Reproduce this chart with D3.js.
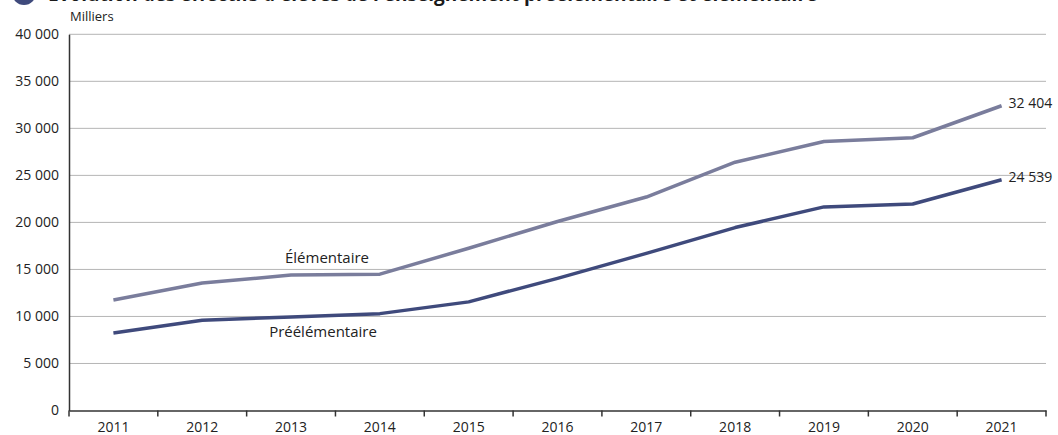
<!DOCTYPE html>
<html><head><meta charset="utf-8">
<script src="https://cdn.jsdelivr.net/npm/d3@7"></script>
<style>
body{margin:0;background:#fff;}
svg{display:block;font-family:"Open Sans","Noto Sans",sans-serif;}
</style></head>
<body>
<svg id="c" width="1058" height="435"></svg>
<script>
const years = ["2011","2012","2013","2014","2015","2016","2017","2018","2019","2020","2021"];
const elementaire = [11750, 13550, 14400, 14500, 17250, 20100, 22700, 26400, 28600, 29000, 32404];
const preelementaire = [8250, 9600, 9950, 10300, 11550, 14050, 16700, 19450, 21650, 21950, 24539];
const yTicks = [0, 5000, 10000, 15000, 20000, 25000, 30000, 35000, 40000];
const title = "Évolution des effectifs d'élèves de l'enseignement préélémentaire et élémentaire";

const svg = d3.select("#c");
const m = {l:69, r:1046, t:34.3, b:410.5};
const x = d3.scaleBand().domain(years).range([m.l, m.r]);
const y = d3.scaleLinear().domain([0, 40000]).range([m.b, m.t]);
const fmt = v => d3.format(",")(v).replace(/,/g, " ");

// title
svg.append("circle").attr("cx", 24).attr("cy", -7).attr("r", 12).attr("fill", "#3f4a7c");
svg.append("text").attr("x", 48).attr("y", 1).attr("font-size", 19).attr("font-weight", 700)
  .attr("fill", "#1a1a1a").text(title);
svg.append("text").attr("x", 70).attr("y", 21).attr("font-size", 13).attr("fill", "#222").text("Milliers");

// grid
svg.append("g").selectAll("line").data(yTicks.filter(d => d > 0)).join("line")
  .attr("x1", m.l).attr("x2", m.r).attr("y1", d => y(d)).attr("y2", d => y(d))
  .attr("stroke", "#b5b5b5").attr("stroke-width", 1);

// y axis
const ya = svg.append("g").attr("transform", `translate(${m.l},0)`)
  .call(d3.axisLeft(y).tickValues(yTicks).tickSize(0).tickPadding(10).tickFormat(fmt));
ya.select(".domain").attr("stroke", "#333").attr("stroke-width", 1.5);
ya.selectAll("text").attr("font-size", 14).attr("fill", "#222").attr("font-family", "Open Sans");

// x axis
const xa = svg.append("g").attr("transform", `translate(0,${m.b})`)
  .call(d3.axisBottom(x).tickSize(0).tickPadding(12));
xa.select(".domain").attr("stroke", "#333").attr("stroke-width", 1.5);
xa.selectAll("text").attr("font-size", 14).attr("fill", "#222").attr("font-family", "Open Sans");
const bounds = years.map(d => x(d)).concat([x.range()[1]]);
xa.selectAll(".bt").data(bounds).join("line").attr("class","bt")
  .attr("x1", d => d).attr("x2", d => d).attr("y1", 0).attr("y2", 6)
  .attr("stroke", "#333").attr("stroke-width", 1.5);

// lines
const cx = d => x(d) + x.bandwidth()/2;
const line = d3.line().x((d,i) => cx(years[i])).y(d => y(d));
svg.append("path").datum(elementaire).attr("d", line).attr("fill","none")
  .attr("stroke", "#7a7d9c").attr("stroke-width", 3.5).attr("stroke-linejoin","round");
svg.append("path").datum(preelementaire).attr("d", line).attr("fill","none")
  .attr("stroke", "#3f4a7c").attr("stroke-width", 3.5).attr("stroke-linejoin","round");

// end labels
const last = years.length - 1;
svg.append("text").attr("x", cx(years[last]) + 7).attr("y", y(elementaire[last]) + 2)
  .attr("font-size", 14).attr("fill", "#222").text(fmt(elementaire[last]));
svg.append("text").attr("x", cx(years[last]) + 7).attr("y", y(preelementaire[last]) + 2)
  .attr("font-size", 14).attr("fill", "#222").text(fmt(preelementaire[last]));

// series labels
svg.append("text").attr("x", 327).attr("y", 263).attr("text-anchor","middle")
  .attr("font-size", 15).attr("fill", "#222").text("Élémentaire");
svg.append("text").attr("x", 323).attr("y", 337).attr("text-anchor","middle")
  .attr("font-size", 15).attr("fill", "#222").text("Préélémentaire");
</script>
</body></html>
